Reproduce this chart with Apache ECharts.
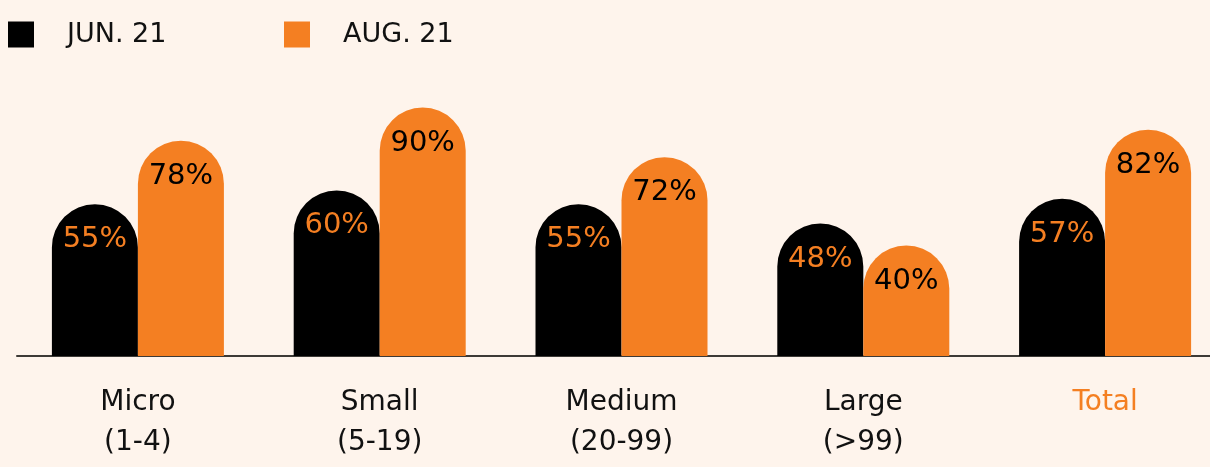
<!DOCTYPE html>
<html>
<head>
<meta charset="utf-8">
<script src="https://cdn.jsdelivr.net/npm/echarts@6/dist/echarts.min.js"></script>
<style>
  html, body { margin: 0; padding: 0; background: #fef4ec; }
  #chart { width: 1210px; height: 467px; }
</style>
</head>
<body>
<div id="chart"></div>
<script>
const categories = ['Micro\n(1-4)', 'Small\n(5-19)', 'Medium\n(20-99)', 'Large\n(>99)', 'Total'];
const junValues = [55, 60, 55, 48, 57];
const augValues = [78, 90, 72, 40, 82];
const seriesNames = ['JUN. 21', 'AUG. 21'];

const BLACK = '#000000';
const ORANGE = '#f47f22';
const FONT = 'DejaVu Sans';

const chart = echarts.init(document.getElementById('chart'));

const legendText = {
  color: '#111',
  fontFamily: FONT,
  fontSize: 27,
  padding: [0, 0, 0, 28]
};

const barLabel = (color) => ({
  show: true,
  position: 'insideTop',
  distance: 21,
  formatter: '{c}%',
  color: color,
  fontFamily: FONT,
  fontSize: 29
});

const option = {
  backgroundColor: '#fef4ec',
  animation: false,
  legend: [{
    left: 8,
    top: 21,
    padding: 0,
    itemWidth: 26,
    itemHeight: 26,
    icon: 'rect',
    data: [seriesNames[0]],
    textStyle: legendText
  }, {
    left: 284,
    top: 21,
    padding: 0,
    itemWidth: 26,
    itemHeight: 26,
    icon: 'rect',
    data: [seriesNames[1]],
    textStyle: legendText
  }],
  grid: {
    left: 17,
    top: 80,
    width: 1209,
    height: 276,
    outerBoundsMode: 'none'
  },
  xAxis: {
    type: 'category',
    data: categories,
    axisLine: { lineStyle: { color: '#3d3a36', width: 2 } },
    axisTick: { show: false },
    axisLabel: {
      margin: 27,
      fontFamily: FONT,
      fontSize: 28,
      lineHeight: 40,
      color: (value) => value === 'Total' ? ORANGE : '#111'
    }
  },
  yAxis: {
    type: 'value',
    min: 0,
    max: 100,
    show: false,
    splitLine: { show: false }
  },
  series: [{
    name: seriesNames[0],
    type: 'bar',
    data: junValues,
    barWidth: 86,
    barGap: '0%',
    itemStyle: { color: BLACK, borderRadius: [43, 43, 0, 0] },
    label: barLabel(ORANGE)
  }, {
    name: seriesNames[1],
    type: 'bar',
    data: augValues,
    barWidth: 86,
    barGap: '0%',
    itemStyle: { color: ORANGE, borderRadius: [43, 43, 0, 0] },
    label: barLabel(BLACK)
  }]
};

chart.setOption(option);
</script>
</body>
</html>
